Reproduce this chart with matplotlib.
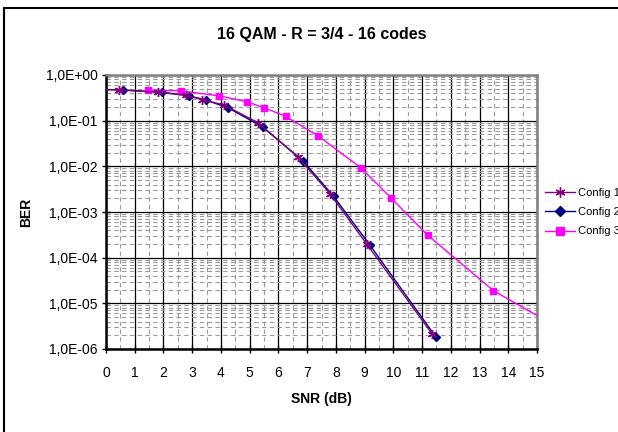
import numpy as np
import matplotlib
matplotlib.use('Agg')
import matplotlib.pyplot as plt
from matplotlib.ticker import FixedLocator, FuncFormatter, LogLocator, NullFormatter
from matplotlib.patches import Rectangle

plt.rcParams['font.family'] = ['Liberation Sans', 'DejaVu Sans']

# SNR (dB) / BER
snr_c1 = [0.0, 0.45, 1.8, 2.77, 3.34, 4.11, 5.28, 6.69, 7.8, 9.07, 11.36]
ber_c1 = [0.48, 0.47, 0.42, 0.36, 0.29, 0.22, 0.091, 0.0158, 0.0025, 2.0e-4, 2.1e-6]

snr_c2 = [0.0, 0.6, 1.96, 2.89, 3.49, 4.26, 5.46, 6.87, 7.92, 9.18, 11.49]
ber_c2 = [0.48, 0.47, 0.42, 0.35, 0.28, 0.19, 0.072, 0.0129, 0.0022, 1.9e-4, 1.8e-6]

snr_c3 = [1.47, 2.6, 3.93, 4.9, 5.51, 6.25, 7.39, 8.86, 9.93, 11.2, 13.48, 15.1]
ber_c3 = [0.47, 0.45, 0.35, 0.26, 0.19, 0.125, 0.046, 0.0094, 0.0020, 3.1e-4, 1.9e-5, 5.0e-6]

labels = ['Config 1', 'Config 2', 'Config 3']
colors = ['#800080', '#000080', '#FF00FF']

fig = plt.figure(figsize=(6.18, 4.32), dpi=100)
ax = fig.add_axes([106/618, 1-349/432, (537-106)/618, (349-75)/432])

# outer chart border (runs off the right/bottom edge like the original)
fig.patches.append(Rectangle((4/618, -0.05), 1.2, 1 - 8/432 + 0.05, transform=fig.transFigure,
                             fill=False, edgecolor='black', lw=1.5, zorder=0))

ax.plot(snr_c1, ber_c1, color=colors[0], lw=1, marker=(6, 2, 0), ms=6.5, mew=1,
        markevery=list(range(1, len(snr_c1))), label=labels[0], zorder=4)
ax.plot(snr_c2, ber_c2, color=colors[1], lw=1, marker='D', ms=4.5,
        markevery=list(range(1, len(snr_c2))), label=labels[1], zorder=3)
ax.plot(snr_c3, ber_c3, color=colors[2], lw=1, marker='s', ms=5,
        markevery=list(range(0, len(snr_c3) - 1)), label=labels[2], zorder=3)

ax.set_yscale('log')
ax.set_xlim(0, 15)
ax.set_ylim(1e-6, 1)

ax.xaxis.set_major_locator(FixedLocator(np.arange(0, 16)))
ax.xaxis.set_minor_locator(FixedLocator(np.arange(0.5, 15, 1)))
ax.yaxis.set_major_locator(LogLocator(base=10, numticks=10))
ax.yaxis.set_minor_locator(LogLocator(base=10, subs=np.arange(2, 10), numticks=20))
ax.yaxis.set_minor_formatter(NullFormatter())
ax.yaxis.set_major_formatter(FuncFormatter(lambda v, p: ('%.1E' % v).replace('.', ',')))

ax.grid(which='major', color='black', lw=0.9)
ax.grid(which='minor', color='#9a9a9a', lw=0.8, ls=(0, (4, 3)))
ax.set_axisbelow(True)

ax.tick_params(which='major', direction='inout', length=6, width=1, labelsize=10, pad=3)
ax.tick_params(which='minor', length=0)
ax.tick_params(axis='x', pad=9)
for s in ax.spines.values():
    s.set_color('#808080')
    s.set_linewidth(1.8)
ax.spines['left'].set_color('black')
ax.spines['bottom'].set_color('black')

ax.set_title('16 QAM - R = 3/4 - 16 codes', fontsize=11.5, fontweight='bold', pad=26)
ax.set_xlabel('SNR (dB)', fontsize=10, fontweight='bold', labelpad=9)
ax.set_ylabel('BER', fontsize=10, fontweight='bold', labelpad=9)

# legend sits past the right edge, text clipped as in the original
ax.legend(loc='center left', bbox_to_anchor=(545/618, 1 - 212/432), bbox_transform=fig.transFigure,
          frameon=False, fontsize=8, handlelength=2.7, handletextpad=0.3, labelspacing=0.85,
          borderaxespad=0, borderpad=0, markerscale=1.1)

fig.savefig('out.png', dpi=100)
